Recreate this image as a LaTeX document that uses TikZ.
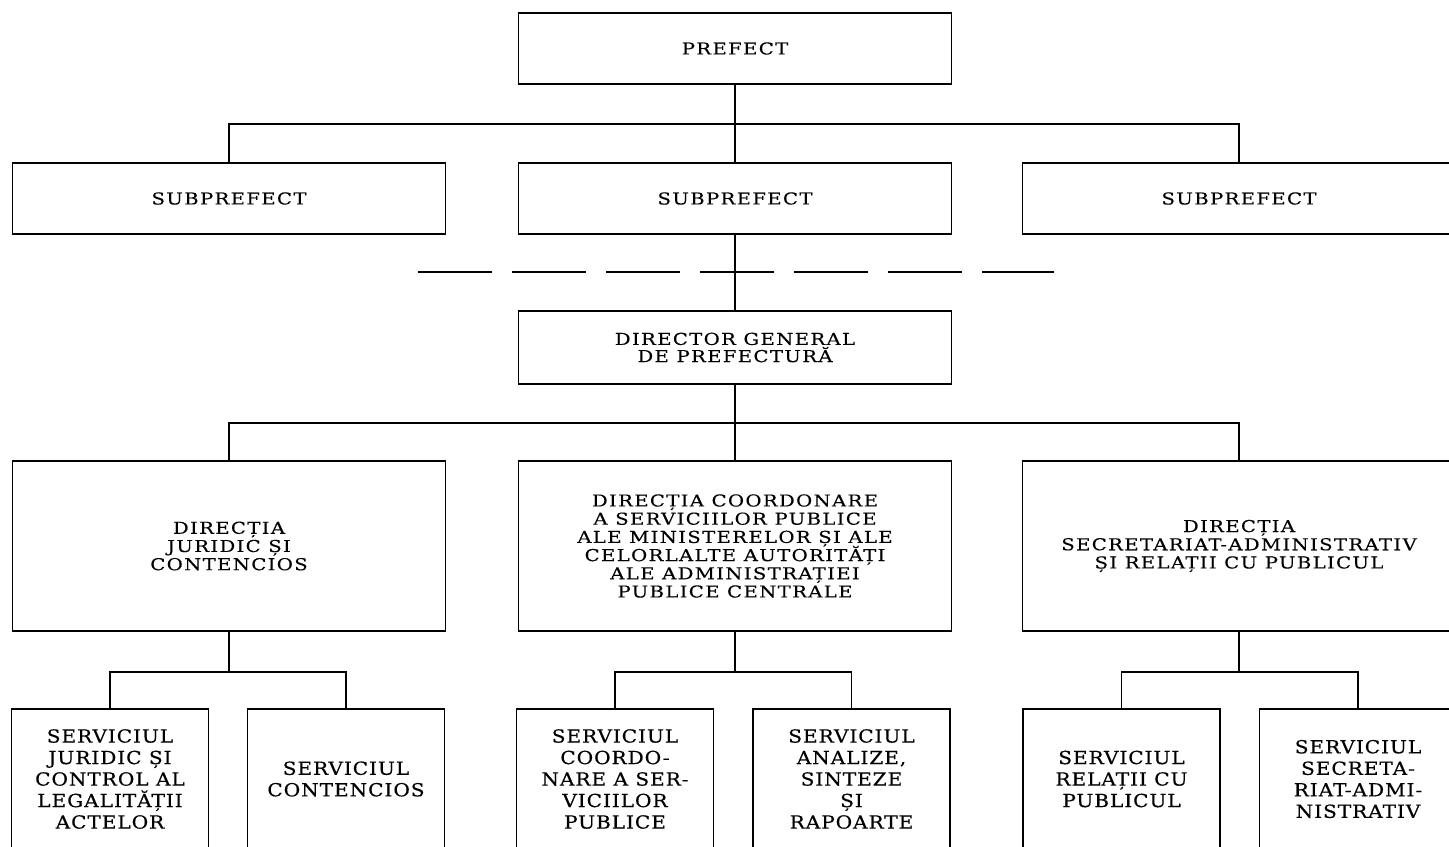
\documentclass[tikz,border=0pt]{standalone}
\usepackage{fontspec}
\setmainfont{DejaVu Serif}[FakeStretch=1.2,LetterSpace=8,FakeBold=0.2]
\newfontfamily\svcfont{DejaVu Serif}[FakeStretch=1.12,LetterSpace=5,FakeBold=0.4]
\newcommand{\tightlines}{\lineskiplimit=-20pt\lineskip=0pt}
\begin{document}
\begin{tikzpicture}[x=0.5pt,y=-0.5pt,
  box/.style={draw, line width=0.9pt, align=center, inner sep=0pt},
  wide/.style={box, minimum width=216.5pt},
  small/.style={box, minimum width=98.5pt, minimum height=70pt, font=\svcfont\fontsize{9pt}{10.75pt}\selectfont\tightlines},
  lvlone/.style={wide, minimum height=35.5pt, font=\fontsize{8.2pt}{9pt}\selectfont\tightlines},
  lvltwo/.style={wide, minimum height=36.5pt, font=\fontsize{8.2pt}{8.6pt}\selectfont\tightlines},
  lvlthree/.style={wide, minimum height=85pt, font=\fontsize{8.2pt}{9.1pt}\selectfont\tightlines},
  conn/.style={line width=0.75pt},
  dashline/.style={line width=0.75pt, dash pattern=on 36.75pt off 10.25pt}]
\useasboundingbox (0,0) rectangle (1449,846);
\clip (0,0) rectangle (1449,846);

% level 0
\node[lvlone] (prefect) at (735,48.5) {PREFECT};
% level 1
\node[lvlone] (sub1) at (229,198.5) {SUBPREFECT};
\node[lvlone] (sub2) at (735,198.5) {SUBPREFECT};
\node[lvlone] (sub3) at (1239,198.5) {SUBPREFECT};
% director
\node[lvltwo] (director) at (735,347.5) {DIRECTOR GENERAL\\DE PREFECTURĂ};
% directions
\node[lvlthree] (dir1) at (229,546) {DIRECȚIA\\JURIDIC ȘI\\CONTENCIOS};
\node[lvlthree] (dir2) at (735,546) {DIRECȚIA COORDONARE\\A SERVICIILOR PUBLICE\\ALE MINISTERELOR ȘI ALE\\CELORLALTE AUTORITĂȚI\\ALE ADMINISTRAȚIEI\\PUBLICE CENTRALE};
\node[lvlthree] (dir3) at (1239,546) {DIRECȚIA\\SECRETARIAT-ADMINISTRATIV\\ȘI RELAȚII CU PUBLICUL};
% services
\node[small] (s1) at (110,779) {SERVICIUL\\JURIDIC ȘI\\CONTROL AL\\LEGALITĂȚII\\ACTELOR};
\node[small] (s2) at (346,779) {SERVICIUL\\CONTENCIOS};
\node[small] (s3) at (615,779) {SERVICIUL\\COORDO-\\NARE A SER-\\VICIILOR\\PUBLICE};
\node[small] (s4) at (851.5,779) {SERVICIUL\\ANALIZE,\\SINTEZE\\ȘI\\RAPOARTE};
\node[small] (s5) at (1121.5,779) {SERVICIUL\\RELAȚII CU\\PUBLICUL};
\node[small] (s6) at (1358,779) {SERVICIUL\\SECRETA-\\RIAT-ADMI-\\NISTRATIV};

% bus points
\coordinate (b1) at (735,124);
\coordinate (b2) at (735,423);
\coordinate (b3a) at (229,672);
\coordinate (b3b) at (735,672);
\coordinate (b3c) at (1239,672);
\coordinate (dl) at (418,272);
\coordinate (dr) at (1054,272);

% connectors
\draw[conn] (prefect.south) -- (b1);
\draw[conn] (sub1.north) |- (b1) -| (sub3.north);
\draw[conn] (b1) -- (sub2.north);
\draw[conn] (sub2.south) -- (director.north);
\draw[dashline] (dl) -- (dr);
\draw[conn] (director.south) -- (b2);
\draw[conn] (dir1.north) |- (b2) -| (dir3.north);
\draw[conn] (b2) -- (dir2.north);
\draw[conn] (dir1.south) -- (b3a);
\draw[conn] (s1.north) |- (b3a) -| (s2.north);
\draw[conn] (dir2.south) -- (b3b);
\draw[conn] (s3.north) |- (b3b) -| (s4.north);
\draw[conn] (dir3.south) -- (b3c);
\draw[conn] (s5.north) |- (b3c) -| (s6.north);
\end{tikzpicture}
\end{document}
